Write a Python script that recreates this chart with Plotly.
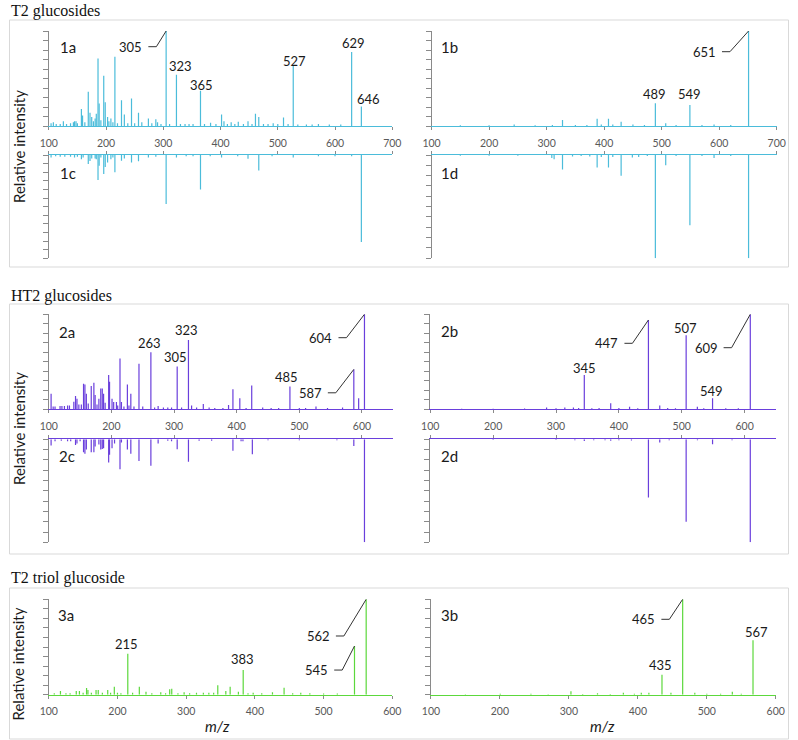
import plotly.graph_objects as go

# ---------------- data (m/z, relative intensity) ----------------
MZ_1A = [104, 108, 113, 120, 125.5, 131, 138, 143, 145, 147.6, 150, 157, 159, 163, 169, 172, 175, 178, 181, 183,
         186, 188, 191, 196, 198.6, 202.7, 205, 208.5, 212, 215.5, 220, 227, 232, 238, 244.5, 250, 256.7, 262.5,
         274, 280, 287, 290, 296, 305, 311, 323, 330, 338, 345, 352, 365, 372, 382.6, 392, 401.8, 406, 412,
         418.6, 425, 431, 440, 448, 455, 461, 466.8, 475, 483, 492, 500, 510, 518, 527, 535, 550, 560, 571,
         590, 610, 629, 646]
INT_1A = [3, 4, 2, 2, 5, 2, 3, 4, 5, 5, 3, 18, 11, 4, 36, 14, 9.5, 5, 8, 13,
          71, 23.6, 6, 53, 25, 9.5, 5, 8, 4, 73, 3, 27, 12, 3, 29, 3, 14, 4,
          8, 3, 7, 4, 2, 100, 2, 54, 2, 2, 2, 2, 37, 2, 3.5, 2, 12, 5, 2,
          4, 2, 4.5, 2, 5, 2, 13, 9.5, 2, 2, 3, 2, 9, 2, 63.5, 1.5, 1.5, 1.5, 2,
          1.5, 1.5, 78, 20.4]
LABELS_1A = [305, 323, 365, 527, 629, 646]

MZ_1B = [150, 200, 243.6, 280, 310, 327.6, 350, 370, 387.8, 395, 407.5, 415, 429.5, 450, 470, 489, 507, 525,
         549, 570, 591, 620, 651]
INT_1B = [0.8, 0.8, 1.5, 0.8, 1, 6.3, 1, 1, 7.7, 1.5, 7.7, 1.5, 4.6, 1.5, 1, 24, 2.8, 1,
          22, 1, 1.5, 1, 100]
LABELS_1B = [489, 549, 651]

MZ_1C = [104, 112, 120, 128, 138, 145, 150, 157, 160, 169, 172, 175, 181, 183, 186, 188, 191, 196, 198.6,
         202.7, 208.5, 212, 215.5, 227, 232, 244.5, 256.7, 274, 287, 305, 323, 340, 352, 365, 382, 401.8,
         430, 448, 466.8, 490, 527, 571, 600, 629, 646]
INT_1C = [3, 1.5, 2, 2, 2, 3, 2, 5, 3, 10.5, 7, 4, 4, 5, 29, 12.5, 3, 22, 14,
          8.6, 5, 3, 20, 6.6, 4, 8.6, 7.4, 3, 2, 57, 3, 1.5, 1.5, 40, 1.5, 3,
          1.5, 4.5, 18, 1.5, 3, 1.5, 1.5, 1.5, 101]

MZ_1D = [150, 200, 250, 309, 313, 327.6, 345, 360, 375, 387.8, 395, 407.5, 415, 429.5, 449, 460, 475, 489,
         507, 525, 549, 570, 591, 620, 651]
INT_1D = [0.8, 0.8, 0.8, 3, 4, 14, 1.5, 1, 1.5, 12, 2, 12, 2, 20, 2.5, 2, 1, 100,
          10, 1, 68, 1, 3, 1, 100]

MZ_2A = [103.7, 107, 110, 118, 121, 125, 130, 133, 140, 142.7, 145, 148, 152, 155.5, 157.7, 160, 163, 167.8,
         172, 174, 177, 180, 183, 185.4, 187.5, 190, 195.6, 197, 201, 203.6, 208, 210, 213.7, 216, 220,
         225.5, 228, 231, 236, 244, 250, 263, 269, 274.6, 283, 290, 296, 305, 312, 323, 328, 336, 346.7,
         356, 365, 378, 387, 394, 405, 415, 424, 441.5, 455, 467, 485, 500, 510, 526.6, 545, 569, 587,
         594.7, 604]
INT_2A = [16.5, 3, 3, 3.5, 3.5, 3.5, 4, 4, 8, 14, 11, 5, 5, 27, 26, 16.5, 6, 24.6,
          28, 15, 5, 11, 22, 22, 16.5, 7, 36, 29, 11, 7.7, 7.7, 4, 53.5, 7.7, 3,
          26, 4, 16.5, 3, 48, 3, 60, 2, 3.5, 2, 2, 2, 45, 2, 73, 4, 2, 5.6,
          2, 1.5, 1.5, 4.5, 21, 11.6, 1.5, 25, 2, 1.5, 1.5, 24, 1.5, 1.5, 3, 1.5, 2, 42,
          11.6, 100]
LABELS_2A = [263, 305, 323, 485, 587, 604]

MZ_2B = [150, 200, 250, 285, 300, 314, 327.7, 336, 345, 357, 368.5, 387, 400, 417, 430, 447, 465, 477.6,
         490, 507, 524.8, 535, 549, 570, 590, 609]
INT_2B = [0.6, 0.6, 0.8, 2, 1, 2, 2, 1.5, 36, 1, 1.5, 6.3, 1.5, 2.8, 1, 94, 3.9, 1.5,
          1, 78, 2.8, 1, 11.6, 1, 1, 100]
LABELS_2B = [345, 447, 507, 549, 609]

MZ_2C = [103.7, 110, 120, 130, 135, 142.7, 145, 150, 155.5, 157.7, 160, 167.8, 172, 174, 180, 183, 185.4,
         187.5, 195.6, 197, 201, 205, 213.7, 216, 225.5, 231, 244, 263, 274.6, 290, 296, 305, 323, 340,
         360, 394, 407, 410, 425, 450, 500, 560, 587, 604]
INT_2C = [6, 2, 1.5, 2, 2, 5.5, 4, 2, 12.6, 14, 10, 12.6, 12.6, 7, 5, 10, 9.4,
          8.7, 22.6, 15, 8.7, 4, 29, 3, 10, 14, 21, 25.6, 4, 1.5, 2, 9.7, 21.7, 1.5,
          1.5, 11, 2, 2, 14.6, 1, 1, 1, 6.5, 100]

MZ_2D = [200, 300, 330, 345, 360, 378, 387, 400, 420, 447, 465, 480, 507, 525, 549, 580, 609]
INT_2D = [0.6, 0.8, 1, 1.6, 1, 1, 1.5, 1, 1.2, 56.6, 3, 1, 80, 1, 4.9, 1, 100]

MZ_3A = [108, 117, 125, 131, 140, 144.6, 150, 155, 157, 162, 168.8, 172, 178, 185.8, 190, 195.4, 200, 205,
         215, 222, 231.8, 241.5, 250, 263, 270, 276, 279, 288, 297, 305, 315, 325, 333, 340, 346, 357.7,
         364, 376, 383, 390, 397.5, 410, 425.6, 442.5, 455, 466.8, 480, 500, 520, 545, 562]
INT_3A = [1.5, 3.8, 1.5, 1.5, 4, 4, 2, 7, 5, 2, 5, 5, 2, 5, 2, 8.4, 2, 1.5,
          43, 2, 8.4, 3, 1.5, 2.5, 1.5, 5.6, 6.3, 1.5, 2.5, 1.5, 2, 2, 2, 2, 10, 3.8,
          8.4, 3, 26, 1.5, 2, 1.5, 2.5, 7.3, 1.5, 2, 1.5, 1.2, 1.2, 51, 100]
LABELS_3A = [215, 383, 545, 562]

MZ_3B = [150, 200.5, 245, 270, 303, 320, 341.5, 360, 379, 395, 405, 416, 435, 448, 465, 482.6, 500, 520,
         537, 550, 567]
INT_3B = [0.5, 1, 1, 0.6, 3.5, 0.8, 1.5, 0.8, 2, 1, 2, 2, 21, 2, 100, 2, 1, 1,
          3, 1, 57]
LABELS_3B = [435, 465, 567]

SECTION_TITLES = ["T2 glucosides", "HT2 glucosides", "T2 triol glucoside"]
PANEL_NAMES = ["1a", "1b", "1c", "1d", "2a", "2b", "2c", "2d", "3a", "3b"]
Y_TITLE = "Relative intensity"
X_TITLE = "<i>m/z</i>"

# ---------------- style / layout ----------------
W, H = 798, 740
BLUE, PURPLE, GREEN = "#4bbcda", "#6a3fdc", "#5cd83c"
AXIS_GRAY = "#8a8a8a"
TEXT = "#1a1a1a"
SANS = "Lato, 'Open Sans', sans-serif"
SERIF = "'Liberation Serif', 'Times New Roman', serif"

# horizontal compensation for the capture (image_x = OFF + SC * page_x)
OFF, SC = 9.5, 0.978


def px_page(p):
    return max(0.0, min(W, (p - OFF) / SC))


def fx(p):
    return px_page(p) / W


def fy(p):
    return 1 - p / H


# panel: (x px span, y px span top->bottom, x range, y max, mirrored, colour, data, labels)
PANELS = {
    "1a": ((49.3, 393.0), (31.0, 126.0), (100, 700), 100, False, BLUE, (MZ_1A, INT_1A), LABELS_1A),
    "1b": ((432.3, 777.7), (31.0, 126.0), (100, 700), 100, False, BLUE, (MZ_1B, INT_1B), LABELS_1B),
    "1c": ((49.3, 393.0), (155.0, 258.3), (100, 700), 120, True, BLUE, (MZ_1C, INT_1C), []),
    "1d": ((432.3, 777.7), (155.0, 258.3), (100, 700), 100, True, BLUE, (MZ_1D, INT_1D), []),
    "2a": ((49.3, 394.0), (314.3, 409.3), (100, 650), 100, False, PURPLE, (MZ_2A, INT_2A), LABELS_2A),
    "2b": ((431.0, 777.0), (314.3, 409.3), (100, 650), 100, False, PURPLE, (MZ_2B, INT_2B), LABELS_2B),
    "2c": ((49.3, 394.0), (439.3, 542.3), (100, 650), 100, True, PURPLE, (MZ_2C, INT_2C), []),
    "2d": ((431.0, 777.0), (439.3, 542.3), (100, 650), 100, True, PURPLE, (MZ_2D, INT_2D), []),
    "3a": ((49.3, 393.0), (599.3, 694.7), (100, 600), 100, False, GREEN, (MZ_3A, INT_3A), LABELS_3A),
    "3b": ((431.7, 776.7), (599.3, 694.7), (100, 600), 100, False, GREEN, (MZ_3B, INT_3B), LABELS_3B),
}

# leader-line labels: (dx, dy) pixel offset of the knee from the peak top
LEADERS = {
    ("1a", 305): (-9.8, 15.7), ("1b", 651): (-18.6, 20.7),
    ("2a", 604): (-18, 23.4), ("2a", 587): (-18, 23.4),
    ("2b", 447): (-16, 23.3), ("2b", 609): (-18.7, 33.4),
    ("3a", 562): (-22.3, 36.7), ("3a", 545): (-12.3, 24),
    ("3b", 465): (-13.3, 20),
}
# plain labels: (xshift, yshift) pixels of label centre from peak top
LABEL_SHIFT = {
    ("1a", 323): (4, 8.3), ("1a", 365): (1, 6), ("1a", 527): (1, 5), ("1a", 629): (1.5, 8.6),
    ("1a", 646): (7, 7.3), ("1b", 489): (-1, 9), ("1b", 549): (0, 11),
    ("2a", 263): (-1.7, 9.7), ("2a", 305): (-1.6, 9.2), ("2a", 323): (-1.8, 10), ("2a", 485): (-3.4, 9.2),
    ("2b", 345): (0, 6.7), ("2b", 507): (-0.7, 7), ("2b", 549): (-1, 7.3),
    ("3a", 215): (-1.6, 9.5), ("3a", 383): (-1, 10.7),
    ("3b", 567): (3.7, 8.8), ("3b", 435): (-1, 9.5),
}
PANEL_LABEL_POS = {
    "1a": (58.3, 46.7), "1b": (440, 46.7), "1c": (58.3, 172.7), "1d": (440, 172.7),
    "2a": (57.3, 331.7), "2b": (439.3, 330.7), "2c": (57.7, 456), "2d": (439.3, 455.7),
    "3a": (56.7, 615), "3b": (439.3, 615),
}

fig = go.Figure()
layout = dict(
    width=W, height=H, autosize=False, margin=dict(l=0, r=0, t=0, b=0, pad=0),
    paper_bgcolor="white", plot_bgcolor="rgba(0,0,0,0)", showlegend=False,
    annotations=[], shapes=[],
)

for i, name in enumerate(PANEL_NAMES, start=1):
    (x0, x1), (yt, yb), xr, ymax, mirror, color, (mz, inten), labels = PANELS[name]
    xa = "xaxis" if i == 1 else f"xaxis{i}"
    ya = "yaxis" if i == 1 else f"yaxis{i}"
    xid = "x" if i == 1 else f"x{i}"
    yid = "y" if i == 1 else f"y{i}"
    layout[xa] = dict(
        domain=[fx(x0), fx(x1)], anchor=yid, range=list(xr), dtick=100, tick0=100,
        showgrid=False, zeroline=False, showline=True, linecolor=color, linewidth=1,
        ticks="outside", ticklen=3, tickcolor=AXIS_GRAY, tickwidth=1,
        showticklabels=not mirror, side="top" if mirror else "bottom",
        tickfont=dict(family=SANS, size=10.5, color="#595959"),
        ticklabelstandoff=4,
        fixedrange=True,
    )
    layout[ya] = dict(
        domain=[fy(yb), fy(yt)], anchor=xid,
        range=[ymax, 0] if mirror else [0, ymax], dtick=10, tick0=0,
        showgrid=False, zeroline=False, showline=True, linecolor=AXIS_GRAY, linewidth=1,
        ticks="outside", ticklen=5, tickcolor=AXIS_GRAY, showticklabels=False,
        fixedrange=True,
    )
    xs, ys = [], []
    for m, v in zip(mz, inten):
        xs += [m, m, None]
        ys += [0, v, None]
    fig.add_trace(go.Scatter(x=xs, y=ys, mode="lines", xaxis=xid, yaxis=yid,
                             line=dict(color=color, width=1.2), hoverinfo="skip",
                             cliponaxis=False))

    # scale (image pixels per data unit)
    sx = (x1 - x0) / (xr[1] - xr[0])
    sy = (yb - yt) / ymax
    hmap = dict(zip(mz, inten))
    for lab in labels:
        h = hmap[lab]
        if (name, lab) in LEADERS:
            dx, dy = LEADERS[(name, lab)]
            xk = lab + dx / sx
            yk = h - dy / sy
            xs0 = xk - 8 / sx
            fig.add_trace(go.Scatter(x=[xs0, xk, lab], y=[yk, yk, h], mode="lines",
                                     xaxis=xid, yaxis=yid, line=dict(color="#333333", width=1),
                                     hoverinfo="skip", cliponaxis=False))
            layout["annotations"].append(dict(
                x=xs0, y=yk, xref=xid, yref=yid, text=str(lab), showarrow=False,
                xanchor="right", yanchor="middle", xshift=-4 / SC,
                font=dict(family=SANS, size=13, color=TEXT)))
        else:
            xsft, ysft = LABEL_SHIFT.get((name, lab), (0, 9))
            layout["annotations"].append(dict(
                x=lab, y=h, xref=xid, yref=yid, text=str(lab), showarrow=False,
                xanchor="center", yanchor="middle", xshift=xsft / SC, yshift=ysft,
                font=dict(family=SANS, size=13, color=TEXT)))
    # panel label
    lx, ly = PANEL_LABEL_POS[name]
    layout["annotations"].append(dict(
        x=fx(lx), y=fy(ly), xref="paper", yref="paper", text=name, showarrow=False,
        xanchor="left", yanchor="middle", font=dict(family=SANS, size=15, color=TEXT)))

# section boxes and titles
BOXES = [(20, 267), (304, 554), (588, 739)]
TITLE_Y = [10.5, 296, 578]
YT_Y = [146.5, 428.5, 664]
for (bt, bb), title, ty, yty in zip(BOXES, SECTION_TITLES, TITLE_Y, YT_Y):
    layout["shapes"].append(dict(type="rect", xref="paper", yref="paper",
                                 x0=0.5 / W, x1=1 - 0.5 / W, y0=fy(bb), y1=fy(bt),
                                 line=dict(color="#d9d9d9", width=1), fillcolor="rgba(0,0,0,0)",
                                 layer="below"))
    layout["annotations"].append(dict(
        x=0, y=fy(ty), xref="paper", yref="paper", text=title, showarrow=False,
        xanchor="left", yanchor="middle", font=dict(family=SERIF, size=16, color="#111111")))
    layout["annotations"].append(dict(
        x=fx(19), y=fy(yty), xref="paper", yref="paper", text=Y_TITLE, showarrow=False,
        textangle=-90, xanchor="center", yanchor="middle",
        font=dict(family=SANS, size=15, color=TEXT)))

for xc in (218, 603):
    layout["annotations"].append(dict(
        x=fx(xc), y=fy(725.7), xref="paper", yref="paper", text=X_TITLE, showarrow=False,
        xanchor="center", yanchor="middle", font=dict(family=SANS, size=15, color=TEXT)))

fig.update_layout(**layout)
fig.write_html(
    "out.html",
    config={"displayModeBar": False, "responsive": False},
    post_script="document.body.style.margin='0';document.body.style.overflow='hidden';",
)
